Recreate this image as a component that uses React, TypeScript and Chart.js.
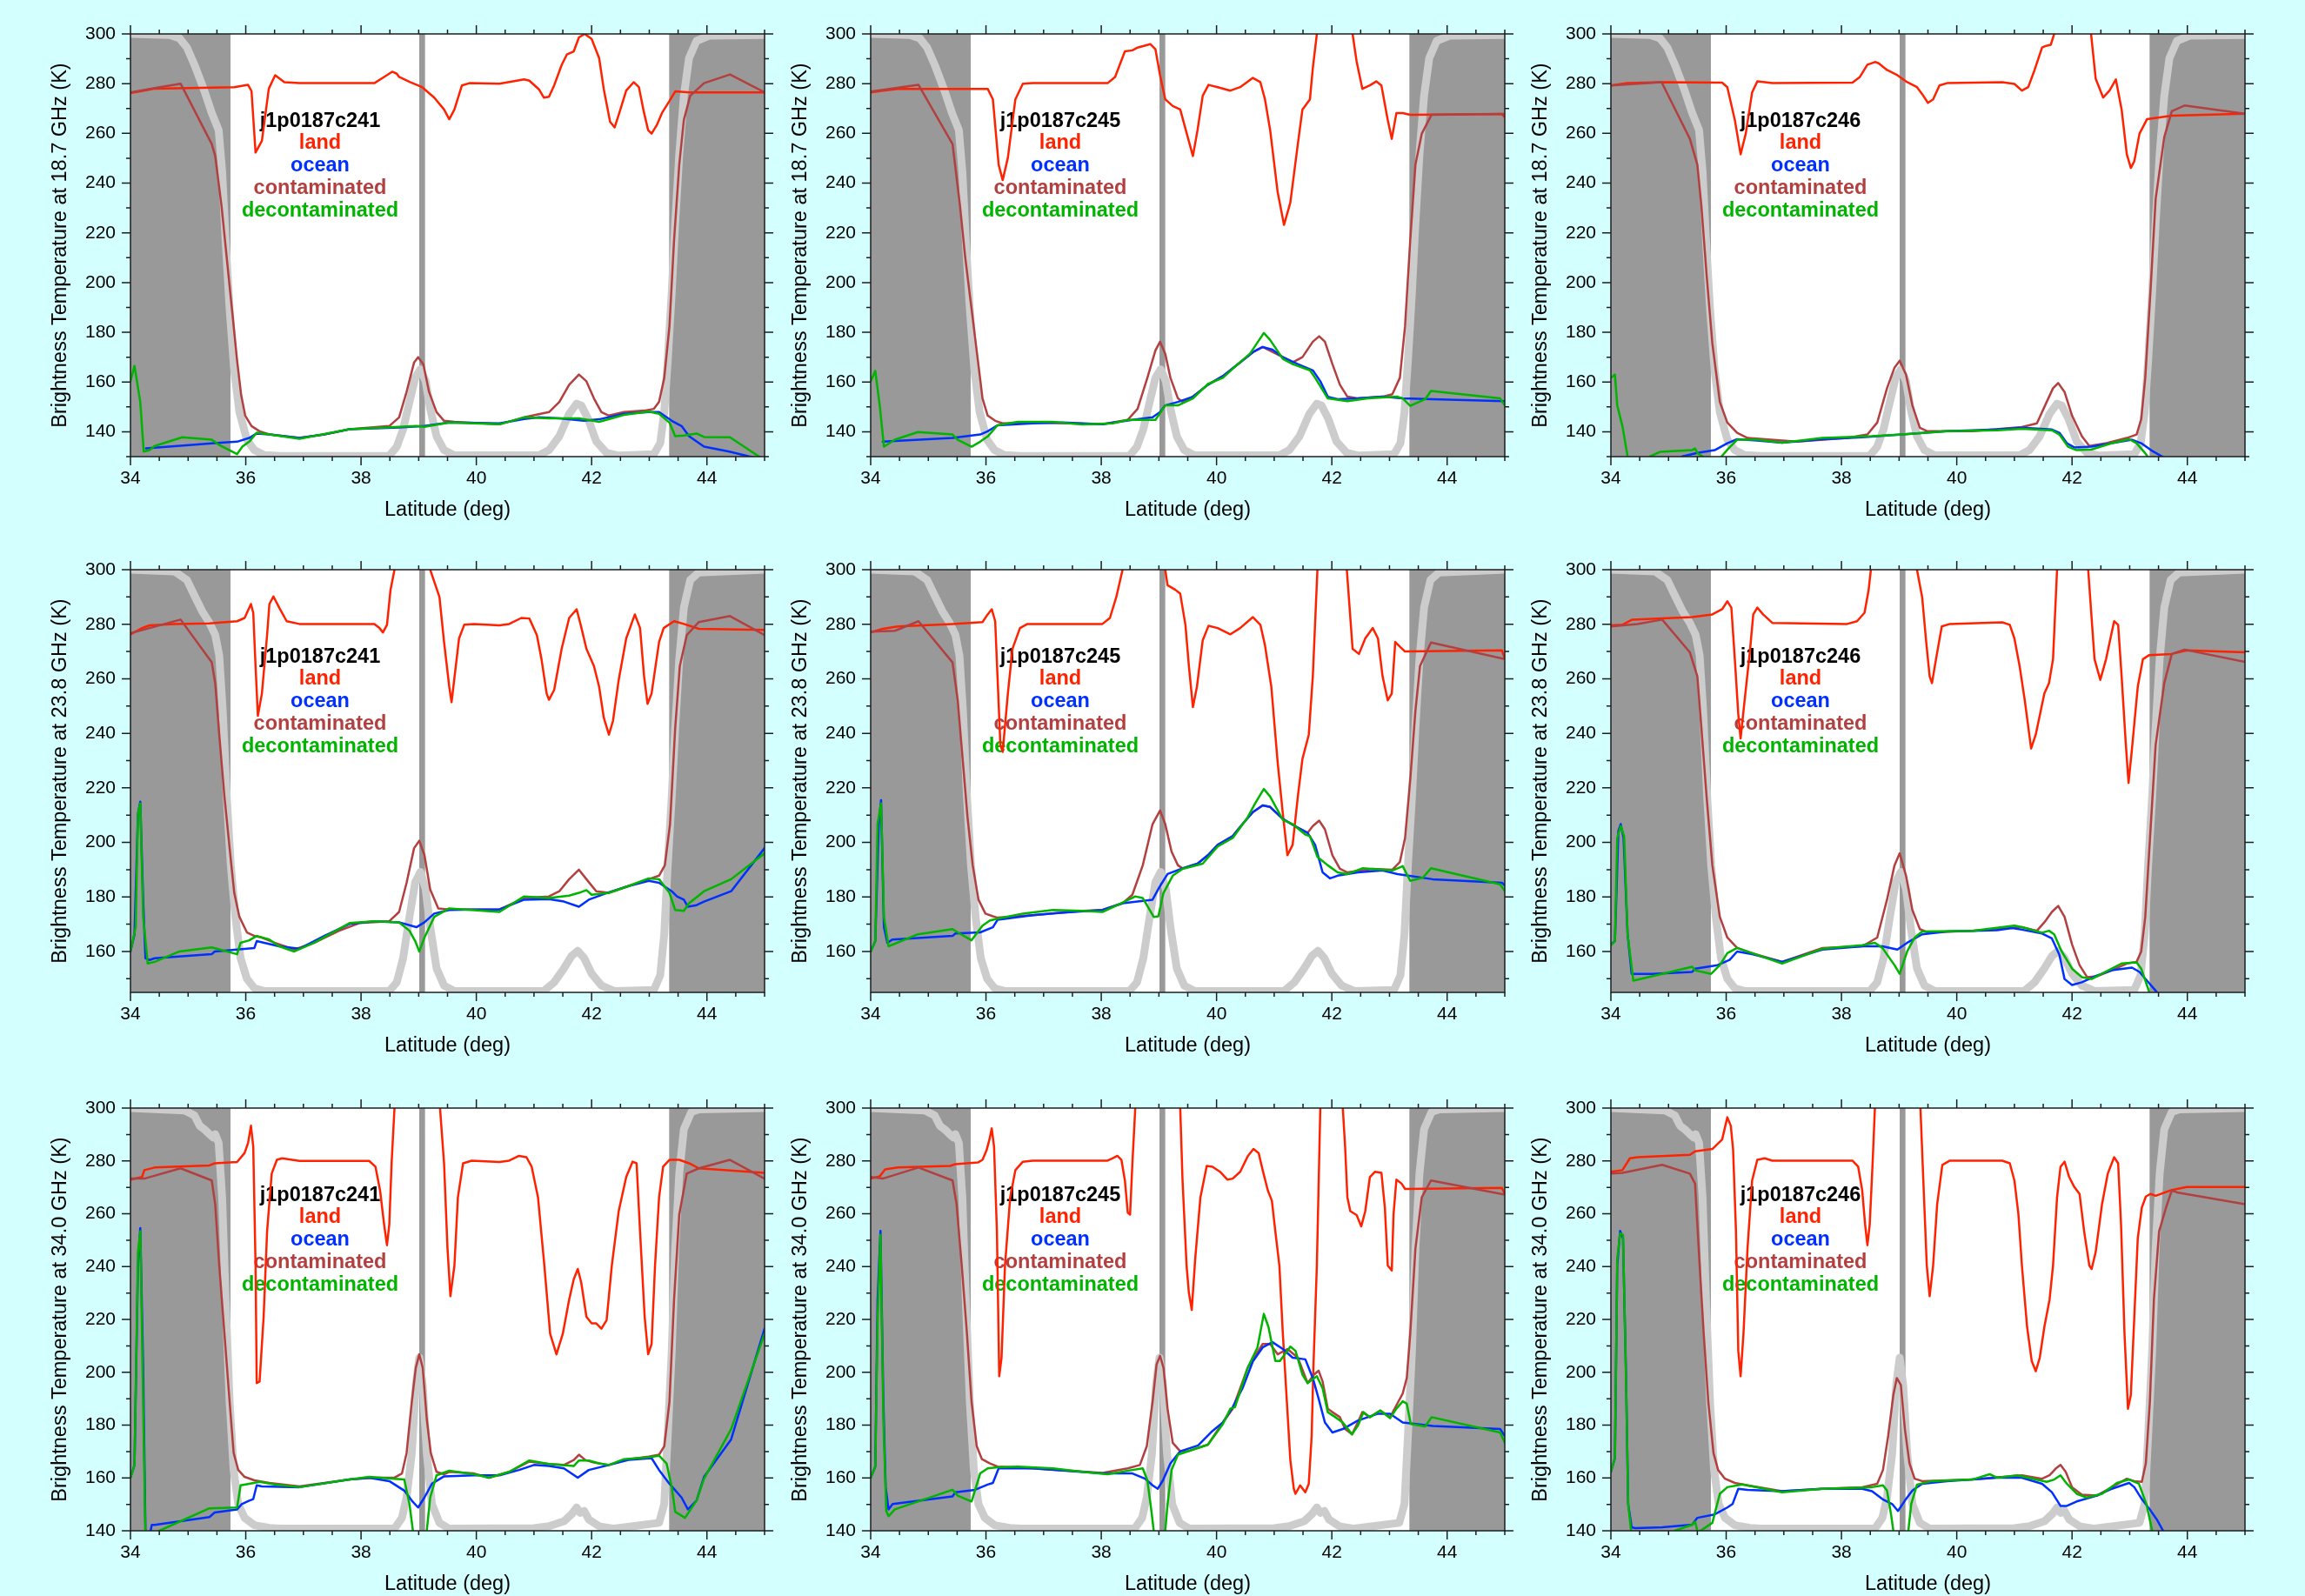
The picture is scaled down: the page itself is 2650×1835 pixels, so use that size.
import React, { useEffect, useRef } from 'react';
import { Chart, registerables } from 'chart.js';

Chart.register(...registerables);

type Pt = [number, number];

// ---------------- 18.7 GHz ----------------
const L187_241: Pt[] = [[34,276.2],[34.33,277.6],[34.42,278],[35.8,278.6],[36.04,279.5],[36.1,277],[36.17,252.3],[36.28,257],[36.4,278],[36.51,283.4],[36.67,280.6],[36.93,280.2],[38.23,280.2],[38.4,282.7],[38.54,284.8],[38.62,284],[38.66,282.7],[38.85,280.6],[39.06,278.6],[39.27,274.4],[39.44,269.6],[39.53,265.7],[39.62,269.6],[39.75,279.3],[39.88,280.2],[40.4,280],[40.66,281],[40.83,281.7],[40.92,281.2],[41.09,277.6],[41.17,274.4],[41.26,274.7],[41.35,279.3],[41.48,287.5],[41.57,291.7],[41.69,293],[41.78,298.6],[41.88,300],[42.0,298],[42.13,290.3],[42.21,277.9],[42.32,264.7],[42.4,262.4],[42.48,268.2],[42.6,277.2],[42.73,280.6],[42.82,278.6],[42.91,268.2],[42.98,261.3],[43.04,259.9],[43.13,263.3],[43.22,268.2],[43.35,273],[43.45,276.9],[43.7,276.5],[45,276.5]];
const C187_241: Pt[] = [[34,276.5],[34.42,278.2],[34.87,280],[35.41,255.7],[35.47,250.9],[35.58,230.8],[35.67,210],[35.76,189.4],[35.85,168.6],[35.92,154.8],[35.99,146.5],[36.1,142.3],[36.24,140.2],[36.41,138.9],[36.93,137.5],[37.36,138.9],[37.8,141],[38.49,142.3],[38.66,145.8],[38.79,156],[38.92,167.9],[38.99,170],[39.08,167.2],[39.18,156],[39.31,147.9],[39.44,144.4],[39.62,144],[40.4,143],[40.83,145.8],[41.26,147.9],[41.44,152],[41.61,158.9],[41.78,163],[41.91,160.3],[42.04,153.4],[42.17,147.9],[42.3,146.5],[42.56,147.9],[42.91,148.5],[43.08,149.2],[43.17,152],[43.26,161.7],[43.35,182.4],[43.43,217],[43.52,247.4],[43.6,265.4],[43.71,275.1],[43.95,280.2],[44.4,283.7],[45,276.5]];
const O187_241: Pt[] = [[34.27,133.3],[35.46,135.4],[35.85,136],[36.06,137.5],[36.19,139.3],[36.41,138.9],[36.93,137.5],[37.36,138.9],[37.8,141],[38.66,141.7],[39.1,142.3],[39.53,143.7],[40.4,143.4],[40.83,145.1],[41.09,145.8],[41.44,145.4],[41.87,144.4],[42.13,145],[42.56,147.2],[42.99,147.9],[43.17,147.9],[43.39,144.4],[43.56,142.3],[43.69,138.2],[43.95,134],[44.39,132],[44.73,130.1],[44.95,129]];
const D187_241: Pt[] = [[34,160.3],[34.07,166.5],[34.17,152],[34.23,132],[34.33,132.6],[34.42,134.3],[34.9,137.8],[35.41,136.8],[35.54,134.7],[35.85,131],[35.94,134],[36.06,136],[36.19,139.6],[36.41,138.9],[36.93,137.2],[37.8,141],[38.66,142],[38.96,142.3],[39.1,142],[39.53,143.7],[40.4,143],[40.83,145.8],[41.26,145.4],[41.78,145.4],[42.13,144],[42.56,146.8],[42.99,148.1],[43.17,147.2],[43.35,143.7],[43.45,138.2],[43.6,138.5],[43.82,139.3],[43.95,137.9],[44.4,137.8],[44.9,130.1],[45,128.5]];

const L187_245: Pt[] = [[34,276.5],[34.21,277.2],[34.47,277.9],[36.03,277.9],[36.12,273.7],[36.22,247.4],[36.29,241.2],[36.38,250.2],[36.51,273.7],[36.64,280],[36.81,280.2],[38.11,280.2],[38.24,282.7],[38.41,293],[38.54,293.4],[38.63,294.5],[38.85,295.9],[38.94,293.8],[39.02,283.4],[39.11,273.7],[39.24,271],[39.37,269.6],[39.5,258.5],[39.59,250.9],[39.67,261.3],[39.76,275.1],[39.86,279.5],[40.02,278.6],[40.24,277.2],[40.41,278.6],[40.63,282.3],[40.76,280.6],[40.84,273.7],[40.93,261.3],[41.06,236.4],[41.17,223.2],[41.28,232.2],[41.41,255.7],[41.49,269.6],[41.62,273.7],[41.67,286.2],[41.74,300],[41.8,315],[42.05,325],[42.3,312],[42.36,300],[42.43,288.9],[42.53,277.9],[42.66,279.3],[42.77,280.9],[42.86,279.3],[42.97,265.4],[43.04,257.8],[43.12,268.2],[43.23,268.2],[43.36,267.5],[44.95,267.8],[45,266.5]];
const C187_245: Pt[] = [[34,276.8],[34.83,279.5],[35.42,255.7],[35.55,230.8],[35.64,210.1],[35.75,189.4],[35.86,168.6],[35.94,153.4],[36.03,146.5],[36.16,144.4],[36.29,143.4],[36.81,143.7],[38.02,143],[38.46,144.8],[38.63,149.2],[38.8,161.7],[38.94,172.7],[39.02,176.2],[39.11,171.4],[39.2,161.7],[39.33,153.4],[39.41,152],[39.59,154.1],[39.85,158.9],[40.11,162.4],[40.37,167.2],[40.63,172],[40.8,174.1],[41.15,170],[41.32,167.9],[41.49,170],[41.67,176.2],[41.78,178.4],[41.88,176.2],[42.01,167.2],[42.14,158.9],[42.27,154.1],[42.45,153.4],[42.88,154.1],[43.05,155.1],[43.18,161.7],[43.27,182.4],[43.36,217],[43.45,247.4],[43.56,259.9],[43.73,267.5],[45,267.8]];
const O187_245: Pt[] = [[34.21,136],[35.42,137.5],[35.9,138.9],[36.03,140.2],[36.2,142.6],[36.81,143.4],[37.33,143.7],[38.02,143],[38.54,144.8],[38.89,145.8],[39.02,147.9],[39.11,150.6],[39.33,152],[39.59,154.1],[39.85,158.9],[40.11,162.4],[40.37,167.2],[40.63,172],[40.8,174.1],[40.97,173],[41.15,170],[41.41,167.2],[41.67,164.7],[41.8,160.3],[41.93,154.1],[42.1,153.1],[42.45,153.4],[42.88,154.1],[43.23,153.4],[43.75,153.1],[45,152.3]];
const D187_245: Pt[] = [[34,160.3],[34.08,164.5],[34.16,150],[34.23,134],[34.42,136.8],[34.82,139.9],[35.42,138.9],[35.51,136.8],[35.75,134],[35.9,136],[36.03,138.1],[36.2,142.6],[36.55,144],[37.16,144],[37.68,142.9],[38.2,143.4],[38.46,144.8],[38.94,144.8],[39.11,150.6],[39.33,150.6],[39.59,153.4],[39.85,159.2],[40.11,161.7],[40.37,167.2],[40.58,171.4],[40.82,179.7],[40.93,176.9],[41.15,169.3],[41.32,167.2],[41.62,164.7],[41.71,161.7],[41.93,153.4],[42.27,152.3],[42.62,153.4],[43.14,154.1],[43.23,153.4],[43.36,150.4],[43.62,153.1],[43.72,156.4],[44.92,153.4],[45,150.6]];

const L187_246: Pt[] = [[34,279.3],[34.29,280.2],[34.89,280.6],[35.93,280.4],[36.02,278.6],[36.15,265.4],[36.25,251.6],[36.34,259.9],[36.45,276.5],[36.54,280.9],[36.8,280.2],[38.19,280.4],[38.32,282.7],[38.45,287.6],[38.58,288.7],[38.64,288.3],[38.79,285.5],[38.97,283.4],[39.14,280.6],[39.31,278.6],[39.4,275.8],[39.5,272.3],[39.59,273.7],[39.7,279.3],[39.83,280.2],[40.79,280.6],[41.0,279.9],[41.13,277.2],[41.24,278.6],[41.35,285.5],[41.48,294.5],[41.55,295.2],[41.63,295.6],[41.69,300],[41.75,312],[42.0,325],[42.28,310],[42.33,300],[42.41,282],[42.54,274.4],[42.65,277.2],[42.76,281.7],[42.86,269.6],[42.95,251.6],[43.02,246.1],[43.08,248.8],[43.17,259.9],[43.3,265.7],[43.73,267.1],[45,267.9]];
const C187_246: Pt[] = [[34,279.3],[34.88,280.6],[35.37,257.8],[35.5,247.4],[35.57,230.8],[35.66,203.2],[35.76,175.5],[35.89,152],[36.02,143.7],[36.19,139.6],[36.37,137.5],[37.23,136],[38.1,137.5],[38.45,138.9],[38.62,143.7],[38.79,157.5],[38.92,165.8],[39.01,168.6],[39.12,163],[39.23,150.6],[39.36,141.6],[39.49,140.2],[40.27,140.2],[41.13,141.9],[41.39,143.4],[41.56,152],[41.67,157.5],[41.76,159.6],[41.87,156],[42.0,146.5],[42.17,138.2],[42.3,134.3],[42.6,135.4],[42.95,137.5],[43.12,138.9],[43.2,145.1],[43.27,161.7],[43.36,196.3],[43.45,233.6],[43.6,258.5],[43.73,268.9],[43.95,271.2],[45,267.9]];
const O187_246: Pt[] = [[35.15,128.5],[35.24,130.1],[35.5,131.5],[35.8,132.6],[36.02,135.4],[36.19,137],[36.54,136.5],[36.97,135.6],[37.67,137],[38.36,137.8],[39.05,138.9],[39.83,140.2],[40.7,140.9],[41.13,141.6],[41.65,140.9],[41.78,139.6],[41.91,135.4],[42.04,133.7],[42.34,134],[42.69,135.4],[43.04,136.8],[43.2,135.4],[43.37,132.6],[43.56,130.1],[43.65,128.5]];
const D187_246: Pt[] = [[34,161.7],[34.07,163],[34.11,150.6],[34.2,142.3],[34.29,130.1],[34.4,124],[34.6,124],[34.68,130.1],[34.85,131.9],[35.41,132.6],[35.46,133.3],[35.5,131.5],[35.59,130.1],[35.7,126],[35.85,126],[35.92,130.1],[36.04,133.3],[36.19,136.8],[36.54,136.8],[36.97,135.6],[37.67,137.5],[38.53,138.2],[39.05,138.9],[39.83,140.2],[40.7,140.6],[41.13,141.2],[41.65,140.6],[41.78,138.9],[41.93,134],[42.08,132.6],[42.34,132.9],[42.69,135.4],[42.99,137],[43.12,135.4],[43.25,131.9],[43.31,130.1],[43.38,127]];

// ---------------- 23.8 GHz ----------------
const L238_241: Pt[] = [[34,276.3],[34.2,278.6],[34.33,279.6],[34.76,280.1],[35.37,280.3],[35.85,281.1],[35.98,282.3],[36.09,287.4],[36.13,284.2],[36.17,264.7],[36.21,246.4],[36.28,254.6],[36.37,276],[36.41,287.4],[36.48,290.2],[36.58,286.1],[36.71,281.1],[36.93,280.1],[38.23,280.1],[38.32,278.6],[38.38,277],[38.45,279.8],[38.51,292.4],[38.58,300],[38.65,315],[38.9,330],[39.12,312],[39.2,300],[39.36,290],[39.44,273.5],[39.53,257.1],[39.57,251.4],[39.63,262.2],[39.7,274.8],[39.79,279.8],[39.96,280.1],[40.4,279.6],[40.57,280.1],[40.78,282.3],[40.92,282.1],[41.05,276],[41.13,267.2],[41.22,254.6],[41.26,252.3],[41.35,255.9],[41.48,271],[41.61,282.3],[41.74,285.5],[41.81,279.8],[41.91,271],[42.04,264.7],[42.13,257.1],[42.21,245.8],[42.3,239.5],[42.37,244.5],[42.47,259.6],[42.6,274.8],[42.75,283.6],[42.84,278.6],[42.91,260.9],[42.97,250.8],[43.04,254.6],[43.17,273.5],[43.25,278.6],[43.43,281.1],[43.6,280.1],[43.86,278.3],[45,277.9]];
const C238_241: Pt[] = [[34,276.7],[34.87,281.7],[35.41,266],[35.47,258.4],[35.54,239.5],[35.63,216.8],[35.72,197.9],[35.8,181.5],[35.89,172.7],[36.02,167],[36.15,165.7],[36.28,165.1],[36.5,163.2],[36.84,160.7],[37.19,163.2],[37.62,167.6],[37.97,170.4],[38.49,171.1],[38.66,174.5],[38.79,185.2],[38.92,197.9],[39.01,200.6],[39.1,195.3],[39.2,182.7],[39.34,175.8],[39.53,175.4],[40.4,175.4],[40.83,179.6],[41.26,180.2],[41.44,182.1],[41.61,186.5],[41.78,190],[41.91,186.5],[42.08,182.1],[42.3,181.5],[42.64,184],[42.99,186.5],[43.17,187.8],[43.27,191.6],[43.36,206.7],[43.45,242],[43.53,264.7],[43.65,276],[43.86,280.8],[44.4,283],[45,276]];
const O238_241: Pt[] = [[34,160],[34.07,166.3],[34.13,210.5],[34.17,214.9],[34.22,178.9],[34.26,157.5],[34.33,156.9],[34.42,157.5],[35.41,159],[35.46,160],[35.85,160.7],[36.15,161.3],[36.19,163.8],[36.32,163.2],[36.58,161.9],[36.93,161],[37.36,165.7],[37.8,170.1],[38.23,171.1],[38.66,170.7],[38.96,168.9],[39.1,170.7],[39.27,173.9],[39.53,175.2],[39.96,175.4],[40.4,175.4],[40.83,179],[41.26,179.2],[41.52,178.3],[41.78,176.4],[41.95,179],[42.3,181.7],[42.64,184],[42.99,185.9],[43.17,185.2],[43.39,182.1],[43.48,180.2],[43.6,179],[43.67,176.4],[43.82,177],[43.95,178.3],[44.42,182.1],[45,197.9]];
const D238_241: Pt[] = [[34,160],[34.09,168.9],[34.13,210.5],[34.17,214.3],[34.22,172.7],[34.3,155.6],[34.42,156.2],[34.85,160],[35.41,161.5],[35.85,159],[35.91,163.2],[36.06,164.1],[36.19,165.7],[36.41,164.4],[36.58,161.9],[36.84,160],[37.19,163.2],[37.8,170.4],[38.23,171.1],[38.66,170.7],[38.84,167.6],[38.94,163.8],[39.01,160],[39.1,165.1],[39.27,172.7],[39.53,175.8],[40.4,174.5],[40.83,180.2],[41.26,179.6],[41.61,180.5],[41.78,181.5],[41.91,182.5],[42.0,180.8],[42.3,181.5],[42.64,184],[42.99,186.8],[43.17,186.5],[43.35,181.5],[43.45,175.2],[43.6,174.9],[43.69,177.7],[43.95,182.1],[44.42,186.5],[45,196]];

const L238_245: Pt[] = [[34,277],[34.21,278.3],[34.47,279.2],[35.42,280.1],[35.94,280.8],[36.03,283.6],[36.1,285.5],[36.16,281.1],[36.2,260.9],[36.25,235.7],[36.29,233.2],[36.38,254.6],[36.46,271],[36.59,278.6],[36.72,280.1],[38.02,280.1],[38.15,282.3],[38.26,289.9],[38.37,300],[38.45,315],[38.75,330],[39.05,310],[39.11,300],[39.15,294.3],[39.28,292.7],[39.37,291.2],[39.46,279.8],[39.52,264.7],[39.59,249.6],[39.66,257.1],[39.76,274.1],[39.86,279.4],[40.02,278.6],[40.24,276.3],[40.41,278.6],[40.63,282.6],[40.76,279.8],[40.84,272.3],[40.95,257.1],[41.06,229.4],[41.15,210.5],[41.23,195.3],[41.32,199.1],[41.41,216.8],[41.49,230.6],[41.6,239.5],[41.67,260.9],[41.75,300],[41.8,315],[42.0,325],[42.2,312],[42.26,300],[42.36,271],[42.47,269.1],[42.58,274.8],[42.71,278.6],[42.8,274.8],[42.88,260.9],[42.97,252.1],[43.04,254.6],[43.1,273.5],[43.19,271.6],[43.27,270],[44.95,270.4],[45,267.5]];
const C238_245: Pt[] = [[34,277.3],[34.42,277.6],[34.83,281.1],[35.42,266],[35.51,252.1],[35.6,229.4],[35.68,209.2],[35.77,191.6],[35.87,179],[35.99,173.9],[36.12,172.9],[36.2,172.4],[36.81,173.3],[37.68,174.9],[38.02,175.2],[38.37,177.7],[38.54,180.8],[38.72,191.6],[38.89,206.7],[39.02,211.7],[39.11,206.7],[39.22,196.6],[39.33,191.6],[39.41,190.5],[39.67,192.2],[39.85,195.3],[40.02,199.1],[40.28,202.3],[40.45,206.7],[40.63,211.1],[40.8,213.6],[40.93,213],[41.15,208.6],[41.36,206],[41.58,203.5],[41.67,206],[41.78,208],[41.88,204.8],[42.01,195.3],[42.14,190.3],[42.27,189],[42.71,190.3],[43.05,190],[43.18,192.8],[43.27,201.6],[43.36,223],[43.45,248.3],[43.53,264.7],[43.72,273.3],[45,267.2]];
const O238_245: Pt[] = [[34,160],[34.08,163.8],[34.14,206.7],[34.18,215.5],[34.23,168.9],[34.29,163.2],[34.38,164.4],[35.42,165.7],[35.47,166.6],[35.9,167],[36.12,168.9],[36.2,171.6],[36.81,173.3],[37.24,174.1],[38.02,175.2],[38.37,177.7],[38.89,179],[39.02,184],[39.15,188.4],[39.41,190.5],[39.67,192.2],[39.85,195.3],[40.02,199.1],[40.28,202.3],[40.45,206.7],[40.63,211.1],[40.8,213.6],[40.93,213],[41.15,208.6],[41.36,206],[41.58,203.5],[41.71,199.1],[41.84,189],[41.97,186.8],[42.1,187.8],[42.45,189],[42.88,189.7],[43.14,188.4],[43.75,186.5],[44.95,185.2],[45,184.2]];
const D238_245: Pt[] = [[34,160],[34.08,163.8],[34.12,206.7],[34.18,214.3],[34.23,172.7],[34.31,161.9],[34.82,166.3],[35.42,168.2],[35.51,167],[35.75,164.1],[35.94,169.5],[36.07,171.4],[36.2,172],[36.64,173.9],[37.16,175.2],[37.68,174.9],[38.02,174.5],[38.28,177],[38.59,180.2],[38.72,179.6],[38.91,172.7],[38.99,172.9],[39.08,181.5],[39.24,187.8],[39.41,190.3],[39.76,192.2],[40.02,198.5],[40.28,201.6],[40.54,209.2],[40.67,214.3],[40.82,219.6],[40.93,216.8],[41.15,208.3],[41.32,206.7],[41.54,202.9],[41.62,202.3],[41.75,194.7],[41.93,191.6],[42.1,189],[42.27,188.4],[42.53,190.5],[43.05,189.7],[43.23,191.3],[43.36,185.9],[43.58,187.1],[43.72,190.5],[44.92,184.6],[45,182.1]];

const L238_246: Pt[] = [[34,279.6],[34.2,279.8],[34.37,281.7],[35.41,282.6],[35.76,283.6],[35.93,285.5],[36.02,288.4],[36.09,286.1],[36.15,267.2],[36.21,247],[36.25,238.1],[36.32,252.1],[36.41,269.7],[36.47,283.6],[36.54,286.1],[36.64,283.6],[36.8,280.5],[38.1,280.1],[38.27,281.1],[38.4,284.2],[38.47,292.4],[38.51,300],[38.6,318],[38.9,330],[39.25,312],[39.31,300],[39.4,289.9],[39.47,273.5],[39.53,260.9],[39.57,258.4],[39.64,267.2],[39.74,279.2],[39.88,280.1],[40.79,280.7],[40.92,279.8],[41.0,274.8],[41.09,264.7],[41.18,252.1],[41.29,234.4],[41.37,239.5],[41.52,254.6],[41.6,258.4],[41.67,267.2],[41.74,300],[41.8,315],[42.0,325],[42.22,312],[42.28,300],[42.39,267.2],[42.49,259.6],[42.59,267.2],[42.73,281.1],[42.8,279.8],[42.86,260.9],[42.93,236.9],[42.98,221.8],[43.04,234.4],[43.14,257.1],[43.23,267.2],[43.34,268.7],[43.73,269.1],[43.99,270.4],[45,269.7]];
const C238_246: Pt[] = [[34,279.2],[34.46,280.1],[34.89,281.7],[35.37,269.7],[35.5,260.9],[35.57,242],[35.66,216.8],[35.76,191.6],[35.89,172.7],[36.02,165.1],[36.19,161.3],[36.45,159.4],[36.97,156.2],[37.67,161.3],[38.36,161.9],[38.62,165.1],[38.79,179],[38.92,191.6],[39.01,196],[39.12,187.8],[39.23,175.2],[39.36,168.2],[39.49,167],[40.27,167.6],[41.13,168.9],[41.39,167.6],[41.52,170.7],[41.65,174.5],[41.76,176.7],[41.87,172.7],[42.0,162.6],[42.13,155],[42.26,150.6],[42.43,150.9],[42.69,153.1],[42.95,155.6],[43.12,156.2],[43.2,160],[43.27,172.7],[43.36,204.2],[43.45,235.7],[43.6,258.4],[43.73,269.1],[43.95,270.7],[45,266.2]];
const O238_246: Pt[] = [[34,162.5],[34.07,163.8],[34.13,204.2],[34.17,206.7],[34.22,201.6],[34.29,166.3],[34.36,151.8],[34.72,151.8],[35.41,152.5],[35.46,153.7],[35.85,155],[36.06,156.9],[36.19,160],[36.45,159],[36.97,156.2],[37.67,160.7],[38.36,161.9],[38.71,161.9],[38.97,160.7],[39.14,163.2],[39.4,166.3],[39.83,167.3],[40.7,167.8],[40.96,168.6],[41.13,168],[41.48,166.6],[41.65,164.8],[41.78,158.8],[41.87,149.9],[42.0,147.7],[42.17,148.7],[42.43,151.2],[42.69,153.1],[43.04,154.1],[43.17,152.5],[43.3,149.3],[43.47,145.1],[43.55,143]];
const D238_246: Pt[] = [[34,162.3],[34.07,163.8],[34.11,201.6],[34.17,206],[34.23,202.3],[34.29,166.3],[34.39,149.3],[34.89,151.8],[35.41,154.4],[35.46,153.1],[35.74,151.8],[35.89,155],[36.02,159.4],[36.19,161.3],[36.45,159.4],[36.97,155.6],[37.67,161],[38.36,162.3],[38.58,163.2],[38.71,161.3],[38.92,155],[39.01,151.8],[39.14,160],[39.27,165.1],[39.4,167.3],[40.27,167.6],[41.0,169.5],[41.13,168.9],[41.48,166.9],[41.6,167.6],[41.69,166.3],[41.82,160],[42.0,153.7],[42.17,150.6],[42.34,149.9],[42.69,153.7],[42.86,155.6],[43.12,156],[43.2,153.7],[43.34,145.1],[43.4,142]];

// ---------------- 34.0 GHz ----------------
const L340_241: Pt[] = [[34,272.9],[34.2,273.9],[34.24,276.5],[34.42,277.5],[35.37,278.3],[35.46,279.1],[35.85,279.6],[35.98,283],[36.04,286.8],[36.09,293.3],[36.13,285.5],[36.17,240.4],[36.19,195.9],[36.24,196.5],[36.31,221],[36.37,253.3],[36.45,275.2],[36.54,280.4],[36.63,281],[36.93,280],[38.14,280],[38.25,277.8],[38.33,268.8],[38.4,255.9],[38.45,248.1],[38.49,255.9],[38.53,279.1],[38.58,300],[38.65,318],[38.95,335],[39.3,315],[39.37,300],[39.44,279.1],[39.5,246.8],[39.55,228.8],[39.62,240.4],[39.68,266.2],[39.77,279.1],[39.92,280.1],[40.4,279.6],[40.57,280.1],[40.74,281.9],[40.87,281.4],[40.96,277.8],[41.07,266.2],[41.18,240.4],[41.28,214.6],[41.39,206.8],[41.5,214.6],[41.61,227.5],[41.69,235.2],[41.76,239.1],[41.82,233.9],[41.91,221],[42.0,218.5],[42.08,218.5],[42.17,216.5],[42.26,219.7],[42.35,240.4],[42.47,261],[42.6,273.9],[42.71,279.7],[42.78,279.1],[42.84,253.3],[42.92,221],[42.98,206.8],[43.04,210.7],[43.1,240.4],[43.17,266.2],[43.24,277.8],[43.35,280.4],[43.52,280.4],[43.69,279.1],[43.86,277.2],[45,275.5]];
const C340_241: Pt[] = [[34,273.3],[34.24,273.3],[34.87,277.2],[35.41,272.6],[35.47,263.6],[35.54,240.4],[35.63,214.6],[35.72,188.8],[35.79,169.4],[35.87,163],[35.98,160.4],[36.15,159.1],[36.41,158.1],[36.93,156.8],[37.8,159.4],[38.23,160.1],[38.58,160.1],[38.71,161.7],[38.79,169.4],[38.88,188.8],[38.95,201.7],[39.01,206.8],[39.07,201.7],[39.14,182.3],[39.21,169.4],[39.31,162.3],[39.44,161.4],[39.53,162.3],[39.96,161.7],[40.22,160.1],[40.57,162.3],[40.92,166.2],[41.26,165.3],[41.52,164.9],[41.69,166.8],[41.78,168.8],[41.89,166.8],[42.04,165.8],[42.3,164.9],[42.56,166.8],[42.99,168.1],[43.17,168.8],[43.26,172],[43.35,188.8],[43.43,227.5],[43.52,259.7],[43.65,275.2],[43.86,277.2],[44.4,280.4],[45,273.3]];
const O340_241: Pt[] = [[34,160.1],[34.07,164.9],[34.13,240.4],[34.17,254.6],[34.22,201.7],[34.26,140],[34.31,136],[34.37,142.2],[34.42,142.2],[35.37,145.2],[35.46,146.9],[35.85,148.1],[35.93,150.1],[36.06,151.4],[36.13,152],[36.19,157.2],[36.28,156.8],[36.93,156.5],[37.8,159.4],[38.14,160.1],[38.49,158.8],[38.75,155.2],[38.88,151.4],[38.99,148.8],[39.1,152.6],[39.23,157.8],[39.44,160.6],[39.96,161],[40.4,161],[40.74,163],[41.0,164.9],[41.26,164.5],[41.52,163.6],[41.76,160.1],[41.95,163],[42.3,164.9],[42.64,166.8],[43.04,167.5],[43.17,163],[43.35,157.8],[43.56,152.6],[43.67,148.1],[43.82,151.4],[43.95,160.4],[44.42,174.6],[45,216.5]];
const D340_241: Pt[] = [[34,160.1],[34.07,164.9],[34.13,245.5],[34.17,253.3],[34.22,188.8],[34.26,137],[34.33,134],[34.5,140],[35.37,148.5],[35.85,148.8],[35.91,157.2],[36.06,157.8],[36.24,158.5],[36.5,157.5],[36.93,156.5],[37.8,159.4],[38.14,160.4],[38.58,159.7],[38.75,159.4],[38.84,150.1],[38.9,140],[38.95,130],[39.1,130],[39.14,140],[39.2,152.6],[39.31,161],[39.53,162.7],[39.96,161.4],[40.22,160.1],[40.57,162.3],[40.92,166.6],[41.26,165.3],[41.69,164.5],[41.78,166.6],[41.95,166.6],[42.13,165.5],[42.3,164.9],[42.56,167.1],[42.99,167.8],[43.17,168.4],[43.3,165.5],[43.39,156.5],[43.45,147.2],[43.62,144.9],[43.82,151.4],[43.95,159.7],[44.42,178.5],[45,214.6]];

const L340_245: Pt[] = [[34,273.3],[34.16,274.2],[34.25,276.8],[34.47,277.5],[35.38,278.1],[35.47,278.8],[35.86,279.4],[35.94,280.4],[36.01,284],[36.06,288.1],[36.1,292.3],[36.14,285.5],[36.19,253.3],[36.23,198.5],[36.27,205.5],[36.33,240.4],[36.42,266.2],[36.51,276.5],[36.64,279.7],[36.81,280.1],[38.11,280.1],[38.2,281],[38.28,281.9],[38.35,280.4],[38.41,272.6],[38.46,260.4],[38.5,259.7],[38.54,279.1],[38.59,300],[38.65,318],[39.0,335],[39.3,315],[39.37,300],[39.41,272.6],[39.48,240.4],[39.52,230.1],[39.57,223.6],[39.63,243],[39.72,266.2],[39.83,278.1],[39.93,277.8],[40.06,275.9],[40.19,272.9],[40.28,273.3],[40.41,275.9],[40.54,281.7],[40.64,284.5],[40.73,283],[40.8,276.5],[40.89,268.8],[40.96,264.9],[41.02,253.3],[41.09,240.4],[41.15,214.6],[41.22,188.8],[41.28,166.8],[41.34,155.9],[41.37,154],[41.45,157.2],[41.54,154.6],[41.6,157.8],[41.65,175.9],[41.68,201.7],[41.74,240.4],[41.8,300],[41.85,320],[42.0,330],[42.15,315],[42.19,300],[42.23,285.5],[42.27,266.2],[42.32,261],[42.43,259.5],[42.51,255.2],[42.58,261],[42.66,273.9],[42.75,275.9],[42.86,275.5],[42.92,262.3],[42.97,240.4],[43.04,238.5],[43.07,259.7],[43.12,272.9],[43.21,271.4],[43.27,269.4],[44.95,269.8],[45,267.5]];
const C340_245: Pt[] = [[34,273.9],[34.21,273.3],[34.83,277.5],[35.42,272.6],[35.49,263.6],[35.58,240.4],[35.67,214.6],[35.75,188.8],[35.84,172],[35.93,167.1],[36.07,165.5],[36.2,164.3],[36.81,163.6],[38.02,161.9],[38.46,163.6],[38.67,164.9],[38.79,172],[38.89,188.8],[38.96,203],[39.02,206.2],[39.08,201.7],[39.15,186.2],[39.24,173.3],[39.37,170.1],[39.5,170.1],[39.85,172.6],[40.11,181],[40.28,186.2],[40.54,201.7],[40.8,210.7],[40.93,210.7],[41.06,206.8],[41.23,208.8],[41.41,205.5],[41.58,195.9],[41.69,199.1],[41.77,200.6],[41.84,196.5],[41.93,186.2],[42.01,184.9],[42.14,183],[42.23,178.5],[42.35,176.5],[42.45,181],[42.53,184.9],[42.66,183],[42.84,185.5],[43.01,183],[43.12,187.5],[43.23,192],[43.3,197.8],[43.36,214.6],[43.45,246.8],[43.56,266.2],[43.72,272.6],[45,267.2]];
const O340_245: Pt[] = [[34,160.1],[34.08,164.3],[34.12,227.5],[34.17,253.5],[34.22,188.8],[34.26,156.5],[34.31,148.1],[34.38,150.1],[35.42,153],[35.47,154.6],[35.81,155.5],[36.03,157.5],[36.12,158.1],[36.22,163.6],[36.81,163.6],[38.02,161.7],[38.54,161.7],[38.76,159.7],[38.89,157.2],[38.98,155.9],[39.07,159.1],[39.2,165.5],[39.37,170.1],[39.68,172.3],[39.93,177.8],[40.11,181],[40.28,186.8],[40.45,193.9],[40.63,204.1],[40.8,209.4],[40.97,211.4],[41.15,208.8],[41.32,205.5],[41.54,204.9],[41.67,197.8],[41.77,190.1],[41.88,181],[42.01,177.2],[42.19,178.5],[42.45,181.7],[42.8,184.3],[43.01,184.3],[43.23,181],[43.75,179.7],[44.92,178.5],[45,175.9]];
const D340_245: Pt[] = [[34,160.1],[34.08,164.3],[34.12,219.7],[34.17,252],[34.22,182.3],[34.27,147.5],[34.31,145.5],[34.42,148.1],[35.42,155.5],[35.51,153.3],[35.75,151.1],[35.9,161.7],[36.03,163.6],[36.2,164],[36.55,164.3],[37.16,163.6],[37.68,162.3],[38.11,161.4],[38.54,163],[38.72,163.6],[38.8,159.1],[38.87,147.5],[38.91,140],[38.95,132],[39.05,132],[39.11,140],[39.15,150.1],[39.22,163],[39.33,168.8],[39.59,170.7],[39.85,172.6],[40.11,180.4],[40.24,186.2],[40.32,186.8],[40.54,201.7],[40.71,209.4],[40.82,222.1],[40.9,217.2],[41.02,204.3],[41.1,204.3],[41.28,209.7],[41.37,208.1],[41.49,199.1],[41.58,195.9],[41.74,198.5],[41.84,193.9],[41.93,184.9],[42.06,183],[42.19,181],[42.35,176.5],[42.45,179.7],[42.55,184.9],[42.66,183],[42.84,185.5],[43.01,182.6],[43.12,186.2],[43.23,189],[43.3,188.1],[43.37,180.4],[43.62,179.5],[43.73,183],[44.92,177.2],[45,173.3]];

const L340_246: Pt[] = [[34,275.9],[34.2,276.5],[34.33,281],[34.46,281.4],[35.37,282.3],[35.46,283.6],[35.76,284.5],[35.93,288.1],[36.02,296.5],[36.08,293.3],[36.12,284.3],[36.17,253.3],[36.21,208.1],[36.25,198.5],[36.3,214.6],[36.37,246.8],[36.45,272.6],[36.54,280.4],[36.67,281],[36.8,280.1],[38.19,280.1],[38.29,277.8],[38.36,268.8],[38.41,255.9],[38.45,248.1],[38.49,255.9],[38.54,279.1],[38.58,300],[38.65,318],[39.0,335],[39.3,315],[39.37,300],[39.42,272.6],[39.48,240.4],[39.53,228.8],[39.59,240.4],[39.66,263.6],[39.75,278.5],[39.88,280.1],[40.79,280.1],[40.92,279.1],[41.0,272.6],[41.07,259.7],[41.13,240.4],[41.22,217.2],[41.3,204.3],[41.37,200.4],[41.44,205.5],[41.52,217.2],[41.61,227.5],[41.67,240.4],[41.74,266.2],[41.8,277.8],[41.87,279.7],[41.95,273.9],[42.04,270.1],[42.13,267.5],[42.21,253.3],[42.3,240.4],[42.34,239.1],[42.41,245.5],[42.52,263.6],[42.62,275.2],[42.73,281.4],[42.8,279.1],[42.85,255.9],[42.91,214.6],[42.97,186.2],[43.02,191.4],[43.08,221],[43.14,250.7],[43.21,262.3],[43.28,266.5],[43.36,267.5],[43.45,266.8],[43.73,269],[43.99,270.1],[45,270.1]];
const C340_246: Pt[] = [[34,275.2],[34.2,275.5],[34.89,278.5],[35.37,275.2],[35.46,271.4],[35.54,240.4],[35.61,214.6],[35.69,188.8],[35.78,169.4],[35.86,163],[35.98,159.7],[36.15,158.1],[36.37,157.2],[36.97,155],[37.67,155.9],[38.36,156.5],[38.62,157.8],[38.72,163],[38.81,175.9],[38.9,191.4],[38.96,197.8],[39.03,195.2],[39.1,178.5],[39.18,165.5],[39.27,159.7],[39.4,158.8],[40.27,159.4],[41.13,161],[41.48,159.7],[41.61,161],[41.72,163.6],[41.8,164.9],[41.89,162.3],[42.0,156.5],[42.17,153.7],[42.43,153.3],[42.69,156.5],[42.95,159.7],[43.08,158.8],[43.21,158.5],[43.28,165.5],[43.35,188.8],[43.42,227.5],[43.51,253.3],[43.63,262.3],[43.73,268.8],[43.82,268.1],[45,263.6]];
const O340_246: Pt[] = [[34,162.3],[34.07,167.5],[34.11,240.4],[34.16,253.5],[34.21,250.7],[34.26,201.7],[34.3,150.1],[34.36,141.3],[34.42,141],[34.89,141.3],[35.41,142.3],[35.5,144.9],[35.8,146.2],[36.02,148.8],[36.11,150.1],[36.21,155.9],[36.37,155.5],[36.97,155],[37.67,155.9],[38.36,155.9],[38.53,155],[38.71,152],[38.88,150.1],[38.98,147.5],[39.1,151.4],[39.23,155.2],[39.4,157.8],[39.83,158.8],[40.7,160.1],[41.13,160.1],[41.48,157.8],[41.65,154.6],[41.8,149.4],[41.91,149.4],[42.08,151.1],[42.43,153.3],[42.69,155.9],[42.99,158.1],[43.08,156.5],[43.21,152],[43.36,147.7],[43.47,144.3],[43.58,140],[43.65,137]];
const D340_246: Pt[] = [[34,162.3],[34.07,167.5],[34.11,243],[34.16,252.6],[34.21,252],[34.27,188.8],[34.3,150.1],[34.35,140],[34.45,130],[35.0,130],[35.11,140],[35.41,142.3],[35.46,143.4],[35.5,140],[35.52,139.5],[35.76,143],[35.89,154],[36.02,156.5],[36.28,157.5],[36.97,154.6],[37.67,155.9],[38.53,156.5],[38.72,157.2],[38.79,155.2],[38.86,146.2],[38.9,140],[38.95,130],[39.1,130],[39.16,140],[39.21,150.1],[39.31,157.5],[39.57,158.8],[40.27,159.4],[40.57,161.4],[40.7,160.1],[41.05,161],[41.56,158.5],[41.69,159.4],[41.8,161],[41.91,157.8],[42.08,154],[42.25,152.6],[42.52,154],[42.78,158.1],[42.99,159.4],[43.16,157.8],[43.29,150.1],[43.39,140],[43.45,135]];

// Land-fraction curves (thick light-gray), in brightness-temperature units, one per frequency
const G187: Pt[] = [[34,300],[34.68,299.6],[34.85,298.3],[34.98,294.5],[35.11,287.6],[35.28,277.2],[35.41,268.2],[35.53,261.3],[35.59,244.7],[35.65,217],[35.72,189.4],[35.8,164.5],[35.89,147.9],[36.02,136.8],[36.15,132.6],[36.32,130.6],[36.6,130.3],[38.49,130.3],[38.62,134],[38.73,141],[38.84,152],[38.94,161.7],[39.03,165.1],[39.12,160.3],[39.2,149.2],[39.31,138.2],[39.44,132.6],[39.62,130.5],[41.09,130.5],[41.26,132.6],[41.44,138.2],[41.61,147.2],[41.74,151.3],[41.82,150.6],[41.94,145.1],[42.08,136.1],[42.26,131.5],[42.47,130.4],[43.08,131],[43.19,135.4],[43.26,147.9],[43.32,168.6],[43.39,196.3],[43.45,223.9],[43.52,251.6],[43.6,275.1],[43.69,290.3],[43.82,297.2],[44.04,299.3],[45,299.6]];
const G238: Pt[] = [[34,300],[34.76,299.4],[34.98,296.2],[35.11,290.5],[35.24,284.9],[35.37,280.5],[35.47,276.1],[35.54,268.5],[35.6,248.3],[35.67,216.8],[35.74,191.6],[35.82,172.7],[35.91,157.6],[36.02,150],[36.15,146.5],[36.32,145.5],[38.49,145.5],[38.62,148.7],[38.73,157.6],[38.84,172.7],[38.94,185.4],[39.03,189.2],[39.12,182.9],[39.2,169],[39.31,153.8],[39.44,147.5],[39.62,145.5],[41.17,145.5],[41.35,148.7],[41.52,153.8],[41.65,158.3],[41.76,160.2],[41.87,157.6],[42.0,151.9],[42.17,147.5],[42.39,145.5],[43.08,145.9],[43.19,151.3],[43.26,166.4],[43.32,191.6],[43.39,216.8],[43.45,242.1],[43.52,267.2],[43.6,286.1],[43.71,296.2],[43.86,299],[45,300]];
const G340: Pt[] = [[34,300],[34.94,299.1],[35.11,297.2],[35.2,293.3],[35.28,292],[35.37,290.1],[35.44,288.8],[35.47,290.1],[35.53,286.8],[35.59,266.2],[35.65,227.5],[35.72,188.8],[35.79,163],[35.87,150.1],[35.98,144.9],[36.15,142.1],[36.41,141.1],[36.6,140.8],[38.58,140.8],[38.71,144.9],[38.79,152.6],[38.88,169.4],[38.95,195.2],[39.01,205.5],[39.07,195.2],[39.14,169.4],[39.23,150.1],[39.36,143],[39.53,140.8],[41.0,141],[41.26,141.7],[41.52,143.6],[41.65,146.2],[41.74,148.8],[41.8,146.8],[41.87,147.5],[41.95,144.3],[42.13,141.7],[42.39,140.8],[43.17,143],[43.26,150.1],[43.32,175.9],[43.39,208.1],[43.45,246.8],[43.52,275.2],[43.6,292],[43.73,298.5],[43.86,299.5],[45,300]];

const FREQS = ['18.7', '23.8', '34.0'];
const YMIN = [130, 145, 140];
const CELLS = ['j1p0187c241', 'j1p0187c245', 'j1p0187c246'];
const LEGEND_WORDS = ['land', 'ocean', 'contaminated', 'decontaminated'];
const SHADE: Pt[] = [[34, 35.735], [39.01, 39.11], [43.345, 45]];
const FRAC = [G187, G238, G340];
const LAND = [[L187_241, L187_245, L187_246], [L238_241, L238_245, L238_246], [L340_241, L340_245, L340_246]];
const CONT = [[C187_241, C187_245, C187_246], [C238_241, C238_245, C238_246], [C340_241, C340_245, C340_246]];
const OCEAN = [[O187_241, O187_245, O187_246], [O238_241, O238_245, O238_246], [O340_241, O340_245, O340_246]];
const DECON = [[D187_241, D187_245, D187_246], [D238_241, D238_245, D238_246], [D340_241, D340_245, D340_246]];

// ---------------- style / layout ----------------
const FONT = "'Liberation Sans', Arial, Helvetica, sans-serif";
const COL = { land: '#ff2200', ocean: '#0030ff', cont: '#b24040', decon: '#00b400', frac: '#cccccc', shade: '#999999', bg: '#d4ffff', frame: '#1e1e1e' };
const TEXT_COLORS = ['#000000', COL.land, COL.ocean, COL.cont, COL.decon];
const TEXT_DY = [107, 132, 158, 184, 210];
const TEXT_DX = 218;
const PLOT_LEFT = [150, 1001, 1852];
const PLOT_TOP = [39, 655, 1274];
const PLOT_W = 729, PLOT_H = 486;
const PAD_L = 95, PAD_R = 20, PAD_T = 32, PAD_B = 76;
const CW = PAD_L + PLOT_W + PAD_R, CH = PAD_T + PLOT_H + PAD_B;
const X_MIN = 34, X_MAX = 45, X_MAJOR = 2, X_MINOR = 0.5;
const Y_MAX = 300, Y_MAJOR = 20, Y_MINOR = 10;
const TICK_MAJOR = 10, TICK_MINOR = 5;

const deco = {
  id: 'deco',
  beforeDatasetsDraw(chart: any, _args: any, o: any) {
    const { ctx, chartArea: a } = chart;
    const x = chart.scales.x;
    ctx.save();
    ctx.fillStyle = '#ffffff';
    ctx.fillRect(a.left, a.top, a.right - a.left, a.bottom - a.top);
    ctx.fillStyle = COL.shade;
    for (const [s, e] of SHADE) {
      const p0 = x.getPixelForValue(s), p1 = x.getPixelForValue(e);
      ctx.fillRect(p0, a.top, p1 - p0, a.bottom - a.top);
    }
    ctx.font = `bold 23.5px ${FONT}`;
    ctx.textAlign = 'center';
    ctx.textBaseline = 'alphabetic';
    const words = [o.cell, ...LEGEND_WORDS];
    words.forEach((w: string, i: number) => {
      ctx.fillStyle = TEXT_COLORS[i];
      ctx.fillText(w, a.left + TEXT_DX, a.top + TEXT_DY[i]);
    });
    ctx.restore();
  },
  afterDatasetsDraw(chart: any, _args: any, o: any) {
    const { ctx, chartArea: a } = chart;
    const x = chart.scales.x, y = chart.scales.y;
    ctx.save();
    ctx.strokeStyle = COL.frame;
    ctx.lineWidth = 1.5;
    ctx.beginPath();
    const nx = Math.round((X_MAX - X_MIN) / X_MINOR);
    for (let i = 0; i <= nx; i++) {
      const v = X_MIN + i * X_MINOR;
      const major = Math.abs(v / X_MAJOR - Math.round(v / X_MAJOR)) < 1e-6;
      const len = major ? TICK_MAJOR : TICK_MINOR;
      const px = x.getPixelForValue(v);
      ctx.moveTo(px, a.bottom); ctx.lineTo(px, a.bottom + len);
      ctx.moveTo(px, a.top); ctx.lineTo(px, a.top - len);
    }
    for (let v = Y_MAX; v >= o.ymin - 1e-6; v -= Y_MINOR) {
      const major = Math.abs(v / Y_MAJOR - Math.round(v / Y_MAJOR)) < 1e-6;
      const len = major ? TICK_MAJOR : TICK_MINOR;
      const py = y.getPixelForValue(v);
      ctx.moveTo(a.left, py); ctx.lineTo(a.left - len, py);
      ctx.moveTo(a.right, py); ctx.lineTo(a.right + len, py);
    }
    ctx.stroke();
    ctx.strokeRect(a.left, a.top, a.right - a.left, a.bottom - a.top);
    ctx.restore();
  },
};

function Panel({ row, col }: { row: number; col: number }) {
  const ref = useRef<HTMLCanvasElement>(null);
  useEffect(() => {
    const toXY = (d: Pt[]) => d.map(([px, py]) => ({ x: px, y: py }));
    const ds = (d: Pt[], color: string, w: number, order: number) => ({
      data: toXY(d), borderColor: color, borderWidth: w, pointRadius: 0, fill: false,
      tension: 0, order, borderJoinStyle: 'round', borderCapStyle: 'round',
    });
    const chart = new Chart(ref.current as HTMLCanvasElement, {
      type: 'line',
      data: {
        datasets: [
          ds(FRAC[row], COL.frac, 9, 5),
          ds(LAND[row][col], COL.land, 2.5, 4),
          ds(CONT[row][col], COL.cont, 2.5, 3),
          ds(OCEAN[row][col], COL.ocean, 2.5, 2),
          ds(DECON[row][col], COL.decon, 2.5, 1),
        ] as any,
      },
      options: {
        animation: false,
        responsive: false,
        devicePixelRatio: 1,
        events: [],
        layout: { padding: { top: PAD_T, right: PAD_R, left: 0, bottom: 0 } },
        plugins: {
          legend: { display: false },
          tooltip: { enabled: false },
          deco: { cell: CELLS[col], ymin: YMIN[row] },
        } as any,
        scales: {
          x: {
            type: 'linear', position: 'bottom', min: X_MIN, max: X_MAX,
            ticks: { stepSize: X_MAJOR, includeBounds: false, autoSkip: false, maxRotation: 0, padding: 12.5, color: '#000', font: { family: FONT, size: 21 } },
            grid: { display: false, drawTicks: false },
            border: { display: false },
            title: { display: true, text: 'Latitude (deg)', color: '#000', padding: 0, font: { family: FONT, size: 23.5 } },
            afterFit: (s: any) => { s.height = PAD_B; },
          },
          y: {
            type: 'linear', position: 'left', min: YMIN[row], max: Y_MAX,
            ticks: { stepSize: Y_MAJOR, includeBounds: false, autoSkip: false, padding: 17, color: '#000', font: { family: FONT, size: 21 } },
            grid: { display: false, drawTicks: false },
            border: { display: false },
            title: { display: true, text: `Brightness Temperature at ${FREQS[row]} GHz (K)`, color: '#000', padding: 0, font: { family: FONT, size: 23.5 } },
            afterFit: (s: any) => { s.width = PAD_L; },
          },
        } as any,
      },
      plugins: [deco as any],
    });
    return () => chart.destroy();
  }, [row, col]);
  return (
    <canvas
      ref={ref}
      width={CW}
      height={CH}
      style={{ position: 'absolute', left: PLOT_LEFT[col] - PAD_L, top: PLOT_TOP[row] - PAD_T, width: CW, height: CH, display: 'block' }}
    />
  );
}

export default function App() {
  const cells: { row: number; col: number }[] = [];
  for (let r = 0; r < 3; r++) for (let c = 0; c < 3; c++) cells.push({ row: r, col: c });
  return (
    <div style={{ position: 'fixed', left: 0, top: 0, width: '100vw', height: '100vh', overflow: 'hidden', background: COL.bg }}>
      {cells.map(({ row, col }) => <Panel key={`${row}-${col}`} row={row} col={col} />)}
    </div>
  );
}
